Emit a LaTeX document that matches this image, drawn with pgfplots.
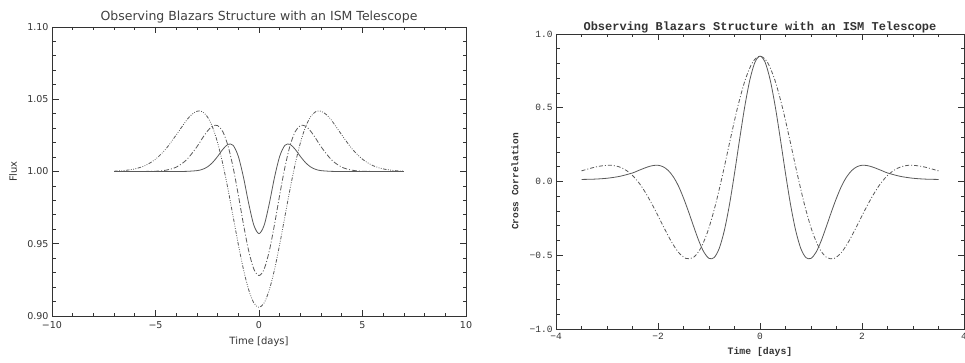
\documentclass[border=0pt]{standalone}
\usepackage{pgfplots}
\pgfplotsset{compat=1.18}
\usepackage{fontspec}
\setmainfont{DejaVu Sans}
\newfontfamily\monofont{Liberation Mono}
\definecolor{axc}{gray}{0.2}
\definecolor{crv}{gray}{0.35}
\begin{document}
\begin{tikzpicture}[x=1bp,y=1bp]
\useasboundingbox (0,0) rectangle (965,362);
% ---------------- left panel ----------------
\begin{axis}[
  at={(52bp,46bp)}, anchor=south west,
  scale only axis, width=414bp, height=289bp,
  xmin=-10, xmax=10, ymin=0.90, ymax=1.10,
  xtick={-10,-5,0,5,10}, xticklabels={−10,−5,0,5,10},
  ytick={0.90,0.95,1.00,1.05,1.10}, yticklabels={0.90,0.95,1.00,1.05,1.10},
  minor x tick num=4, minor y tick num=4,
  tick align=inside,
  major tick length=6.5bp, minor tick length=3.5bp,
  axis line style={axc, line width=0.8bp},
  every tick/.style={axc, line width=0.8bp},
  tick label style={text=black!80, font=\fontsize{9.5bp}{11bp}\selectfont},
  xticklabel style={yshift=-2bp},
  title={Observing Blazars Structure with an ISM Telescope},
  title style={at={(axis description cs:0.5,1)}, anchor=base, yshift=1bp, text=black!75, font=\fontsize{12.5bp}{14bp}\selectfont},
  xlabel={Time [days]},
  xlabel style={at={(axis description cs:0.5,-0.09)}, anchor=center, text=black!80, font=\fontsize{10bp}{12bp}\selectfont},
  ylabel={Flux},
  ylabel style={at={(axis description cs:-0.094,0.5)}, anchor=center, text=black!80, font=\fontsize{10bp}{12bp}\selectfont},
]
\addplot[crv, line width=0.8bp, smooth] coordinates {
(-7,1.0) (-5,1.0) (-4,1.0) (-3.5,1.0001) (-3,1.0006) (-2.75,1.0014) (-2.5,1.0031) (-2.25,1.0061)
(-2,1.0104) (-1.75,1.0153) (-1.5,1.0188) (-1.25,1.0181) (-1,1.0105) (-0.75,0.9960) (-0.5,0.9780)
(-0.25,0.9629) (0,0.957) (0.25,0.9629) (0.5,0.9780) (0.75,0.9960) (1,1.0105) (1.25,1.0181)
(1.5,1.0188) (1.75,1.0153) (2,1.0104) (2.25,1.0061) (2.5,1.0031) (2.75,1.0014) (3,1.0006)
(3.5,1.0001) (4,1.0) (5,1.0) (7,1.0)};
\addplot[crv, line width=0.8bp, smooth, dash pattern=on 5bp off 2bp on 1bp off 2bp] coordinates {
(-7,1.0) (-6,1.0) (-5,1.0002) (-4.5,1.0009) (-4,1.0030) (-3.5,1.0081) (-3,1.0171) (-2.75,1.0227)
(-2.5,1.0278) (-2.25,1.0314) (-2,1.0318) (-1.75,1.0276) (-1.5,1.0179) (-1.25,1.0028) (-1,0.9838)
(-0.75,0.9634) (-0.5,0.9452) (-0.25,0.9325) (0,0.928) (0.25,0.9325) (0.5,0.9452) (0.75,0.9634)
(1,0.9838) (1.25,1.0028) (1.5,1.0179) (1.75,1.0276) (2,1.0318) (2.25,1.0314) (2.5,1.0278)
(2.75,1.0227) (3,1.0171) (3.5,1.0081) (4,1.0030) (4.5,1.0009) (5,1.0002) (6,1.0) (7,1.0)};
\addplot[crv, line width=0.8bp, smooth, dash pattern=on 3.5bp off 1.5bp on 0.8bp off 1.5bp on 0.8bp off 1.5bp on 0.8bp off 1.5bp] coordinates {
(-7,1.0002) (-6.5,1.0007) (-6,1.0018) (-5.5,1.0041) (-5,1.0085) (-4.5,1.0156) (-4,1.0253)
(-3.5,1.0355) (-3.25,1.0394) (-3,1.0417) (-2.75,1.0415) (-2.5,1.0380) (-2.25,1.0309) (-2,1.0199)
(-1.75,1.0053) (-1.5,0.9879) (-1.25,0.9688) (-1,0.9496) (-0.75,0.9322) (-0.5,0.9182) (-0.25,0.9091)
(0,0.906) (0.25,0.9091) (0.5,0.9182) (0.75,0.9322) (1,0.9496) (1.25,0.9688) (1.5,0.9879)
(1.75,1.0053) (2,1.0199) (2.25,1.0309) (2.5,1.0380) (2.75,1.0415) (3,1.0417) (3.25,1.0394)
(3.5,1.0355) (4,1.0253) (4.5,1.0156) (5,1.0085) (5.5,1.0041) (6,1.0018) (6.5,1.0007) (7,1.0002)};
\end{axis}
% ---------------- right panel ----------------
\begin{axis}[
  at={(556bp,33bp)}, anchor=south west,
  scale only axis, width=408bp, height=295bp,
  xmin=-4, xmax=4, ymin=-1, ymax=1,
  xtick={-4,-2,0,2,4}, xticklabels={−4,−2,0,2,4},
  ytick={-1,-0.5,0,0.5,1}, yticklabels={−1.0,−0.5,0.0,0.5,1.0},
  minor x tick num=3, minor y tick num=4,
  tick align=inside,
  major tick length=6.5bp, minor tick length=3.5bp,
  axis line style={axc, line width=0.8bp},
  every tick/.style={axc, line width=0.8bp},
  tick label style={text=black!80, font=\monofont\fontsize{9.5bp}{11bp}\selectfont},
  xticklabel style={yshift=-1bp},
  title={Observing Blazars Structure with an ISM Telescope},
  title style={at={(axis description cs:0.5,1)}, anchor=base, yshift=-2bp, text=black!80, font=\monofont\bfseries\fontsize{12bp}{14bp}\selectfont},
  xlabel={Time [days]},
  xlabel style={at={(axis description cs:0.5,-0.078)}, anchor=center, text=black!80, font=\monofont\bfseries\fontsize{9.8bp}{12bp}\selectfont},
  ylabel={Cross Correlation},
  ylabel style={at={(axis description cs:-0.1005,0.5)}, anchor=center, text=black!80, font=\monofont\bfseries\fontsize{9.5bp}{12bp}\selectfont},
]
\addplot[crv, line width=0.8bp, smooth] coordinates {
(-3.5,0.014) (-3.25,0.016) (-3,0.022) (-2.75,0.035) (-2.5,0.058) (-2.4,0.072) (-2.3,0.086) (-2.2,0.099)
(-2.1,0.108) (-2,0.110) (-1.9,0.100) (-1.8,0.075) (-1.7,0.032) (-1.6,-0.030) (-1.5,-0.112) (-1.4,-0.206)
(-1.3,-0.306) (-1.2,-0.402) (-1.1,-0.479) (-1,-0.521) (-0.9,-0.516) (-0.8,-0.454) (-0.7,-0.333)
(-0.6,-0.159) (-0.5,0.055) (-0.4,0.286) (-0.3,0.506) (-0.2,0.688) (-0.1,0.808) (0,0.85)
(0.1,0.808) (0.2,0.688) (0.3,0.506) (0.4,0.286) (0.5,0.055) (0.6,-0.159) (0.7,-0.333) (0.8,-0.454)
(0.9,-0.516) (1,-0.521) (1.1,-0.479) (1.2,-0.402) (1.3,-0.306) (1.4,-0.206) (1.5,-0.112) (1.6,-0.030)
(1.7,0.032) (1.8,0.075) (1.9,0.100) (2,0.110) (2.1,0.108) (2.2,0.099) (2.3,0.086) (2.4,0.072)
(2.5,0.058) (2.75,0.035) (3,0.022) (3.25,0.016) (3.5,0.014)};
\addplot[crv, line width=0.8bp, smooth, dash pattern=on 4bp off 2bp on 1bp off 2bp] coordinates {
(-3.5,0.072) (-3.349,0.087) (-3.203,0.100) (-3.058,0.108) (-2.912,0.110) (-2.766,0.100) (-2.621,0.075)
(-2.475,0.032) (-2.330,-0.030) (-2.184,-0.112) (-2.038,-0.206) (-1.893,-0.306) (-1.747,-0.402)
(-1.602,-0.479) (-1.456,-0.521) (-1.310,-0.516) (-1.165,-0.454) (-1.019,-0.333) (-0.874,-0.159)
(-0.728,0.055) (-0.582,0.286) (-0.437,0.506) (-0.291,0.688) (-0.146,0.808) (0,0.85)
(0.146,0.808) (0.291,0.688) (0.437,0.506) (0.582,0.286) (0.728,0.055) (0.874,-0.159) (1.019,-0.333)
(1.165,-0.454) (1.310,-0.516) (1.456,-0.521) (1.602,-0.479) (1.747,-0.402) (1.893,-0.306)
(2.038,-0.206) (2.184,-0.112) (2.330,-0.030) (2.475,0.032) (2.621,0.075) (2.766,0.100) (2.912,0.110)
(3.058,0.108) (3.203,0.100) (3.349,0.087) (3.5,0.072)};
\end{axis}
\end{tikzpicture}
\end{document}
